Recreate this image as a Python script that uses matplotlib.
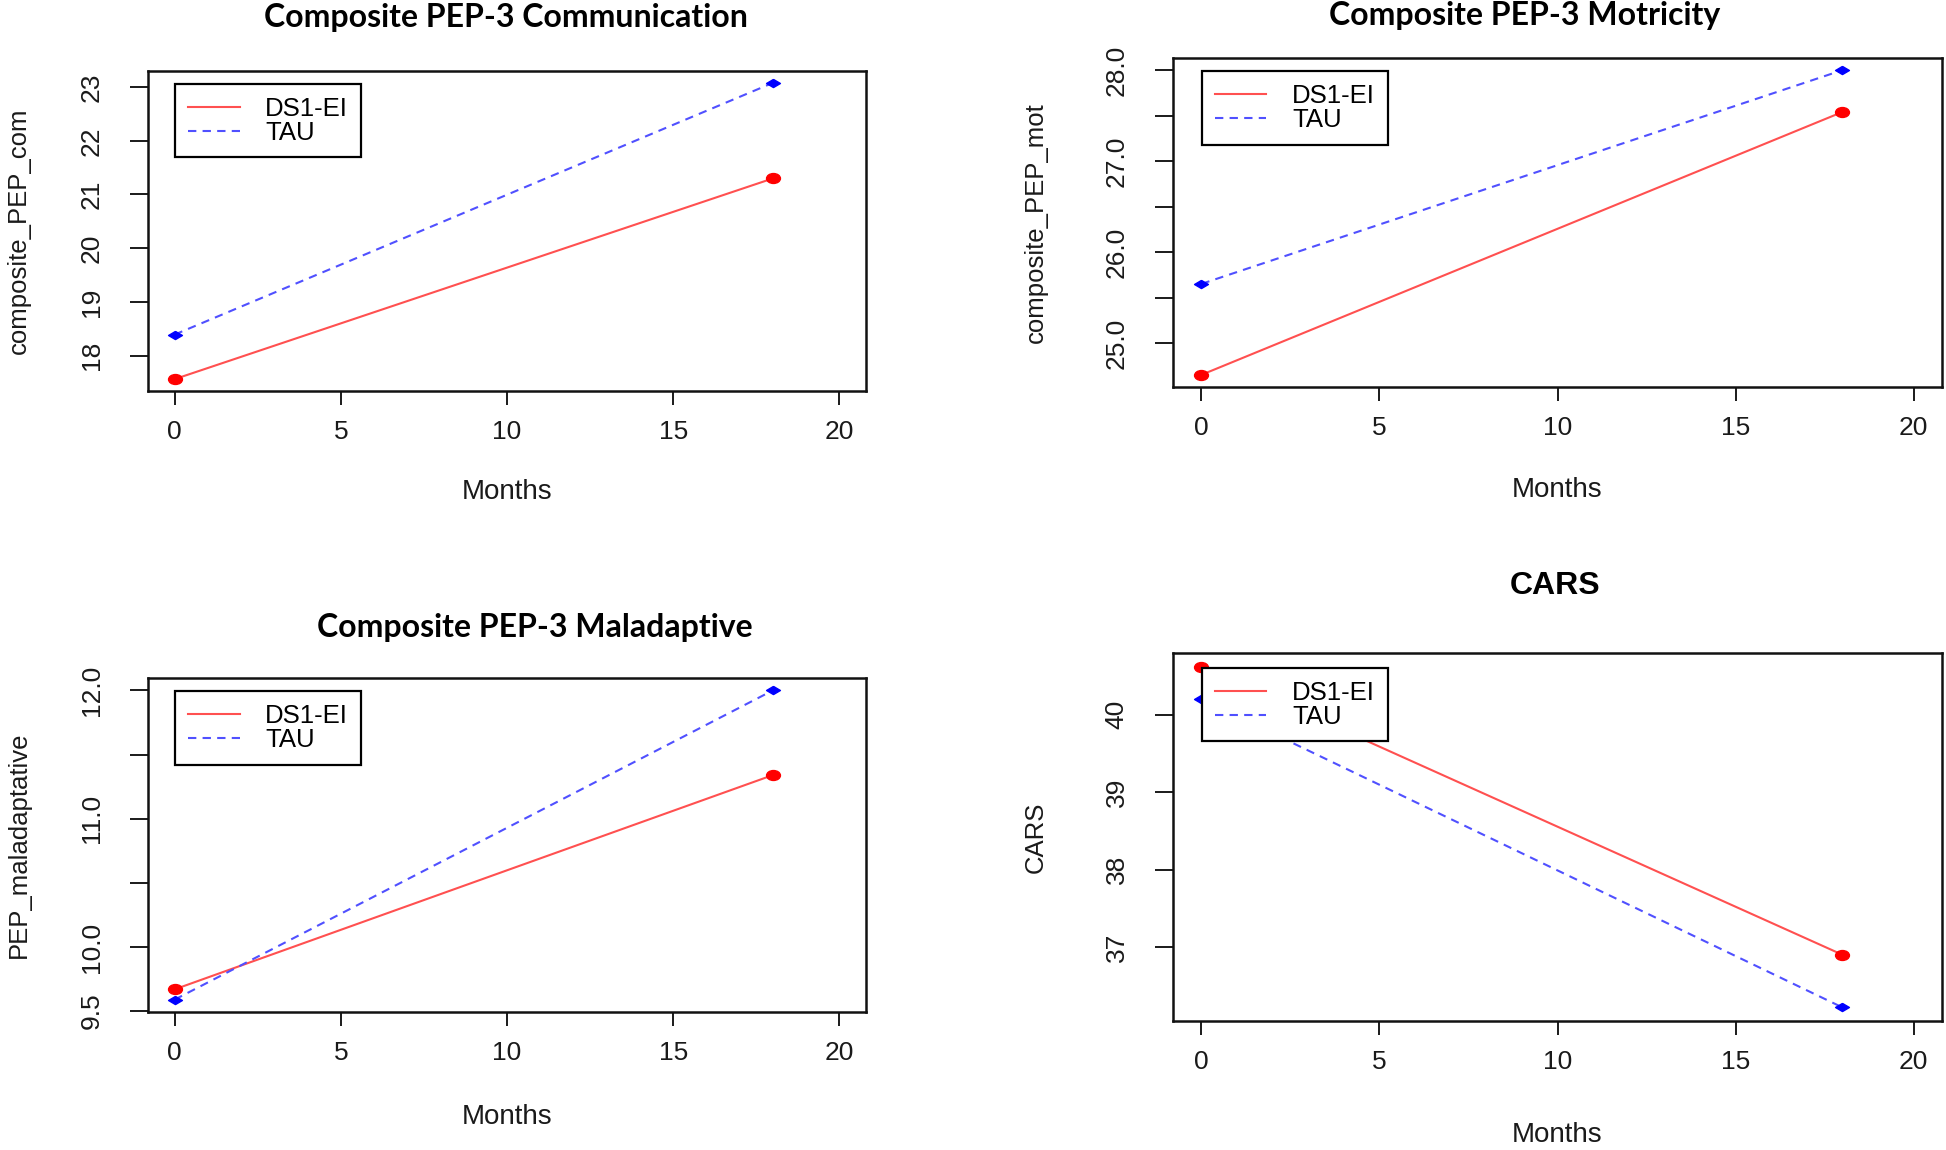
import matplotlib.pyplot as plt
from matplotlib.path import Path
from matplotlib.transforms import Affine2D

plt.rcParams['font.family'] = ['Liberation Sans', 'DejaVu Sans']

months = [0, 18]

com_ds1 = [17.56, 21.30]
com_tau = [18.39, 23.08]
mot_ds1 = [24.65, 27.54]
mot_tau = [25.65, 28.00]
mal_ds1 = [9.67, 11.34]
mal_tau = [9.59, 12.00]
cars_ds1 = [40.62, 36.90]
cars_tau = [40.20, 36.22]

titles = ['Composite PEP-3 Communication', 'Composite PEP-3 Motricity',
          'Composite PEP-3 Maladaptive', 'CARS']
ylabels = ['composite_PEP_com', 'composite_PEP_mot', 'PEP_maladaptative', 'CARS']
xticks = [0, 5, 10, 15, 20]
yticks = [[18, 19, 20, 21, 22, 23],
          [25.0, 25.5, 26.0, 26.5, 27.0, 27.5, 28.0],
          [9.5, 10.0, 10.5, 11.0, 11.5, 12.0],
          [37, 38, 39, 40]]
ytick_labels = [['18', '19', '20', '21', '22', '23'],
                ['25.0', '', '26.0', '', '27.0', '', '28.0'],
                ['9.5', '10.0', '', '11.0', '', '12.0'],
                ['37', '38', '39', '40']]
series = [(com_ds1, com_tau), (mot_ds1, mot_tau), (mal_ds1, mal_tau), (cars_ds1, cars_tau)]

# the original picture is stretched sideways, so the markers are too
dot = Affine2D().scale(1.4, 1.0).transform_path(Path.unit_circle())
diamond = [(0, 1), (1.7, 0), (0, -1), (-1.7, 0), (0, 1)]

W, H = 1946, 1150
fig = plt.figure(figsize=(W / 100, H / 100), dpi=100)

# axes boxes in pixels: left, top, right, bottom
boxes = [(148, 71, 866, 391), (1173, 58, 1942, 387),
         (148, 678, 866, 1012), (1173, 653, 1942, 1021)]
title_xy = [(506, 17), (1525, 15), (535, 627), (1555, 586)]

for i in range(4):
    l, t, r, b = boxes[i]
    ax = fig.add_axes([l / W, 1 - b / H, (r - l) / W, (b - t) / H])
    ds1, tau = series[i]

    ax.plot(months, ds1, color='#ff5050', lw=1.5, ls='-', label='DS1-EI')
    ax.plot(months, tau, color='#5050ff', lw=1.5, ls=(0, (4, 3)), label='TAU')
    ax.plot(months, ds1, marker=dot, color='red', ms=10, ls='none')
    ax.plot(months, tau, marker=diamond, color='blue', ms=10, ls='none')

    lo = min(ds1 + tau)
    hi = max(ds1 + tau)
    pad = 0.04 * (hi - lo)
    ax.set_xlim(-0.8, 20.8)
    ax.set_xticks(xticks)
    ax.set_xticklabels([str(x) for x in xticks])
    ax.set_yticks(yticks[i])
    ax.set_yticklabels(ytick_labels[i])
    ax.set_ylim(lo - pad, hi + pad)

    ax.tick_params(axis='x', length=10, width=1.4, pad=11, labelsize=19, colors='#1a1a1a')
    ax.tick_params(axis='y', length=13, width=1.4, pad=19, labelsize=19, colors='#1a1a1a',
                   labelrotation=90)
    for lab in ax.get_yticklabels():
        lab.set_va('center')

    for sp in ax.spines.values():
        sp.set_linewidth(1.8)
        sp.set_color('#111111')

    ax.set_xlabel('Months', fontsize=20, color='#1a1a1a')
    ax.set_ylabel(ylabels[i], fontsize=18.5, color='#1a1a1a')
    ax.xaxis.set_label_coords(0.5, -0.275)
    ax.yaxis.set_label_coords(-0.163, 0.5)

    leg = ax.legend(loc='upper left', bbox_to_anchor=(0.038, 0.96), fontsize=18.5,
                    frameon=True, fancybox=False, edgecolor='black', framealpha=1,
                    borderaxespad=0, borderpad=0.5, labelspacing=0.0,
                    handlelength=2.0, handletextpad=1.0)
    leg.get_frame().set_linewidth(1.6)

    tx, ty = title_xy[i]
    if titles[i] == 'CARS':
        fig.text(tx / W, 1 - ty / H, titles[i], ha='center', va='center',
                 fontsize=23, fontweight='bold', family=['Liberation Sans', 'DejaVu Sans'])
    else:
        fig.text(tx / W, 1 - ty / H, titles[i], ha='center', va='center',
                 fontsize=23, fontweight='bold', family=['Lato', 'DejaVu Sans'])

fig.savefig('out.png', dpi=100)
